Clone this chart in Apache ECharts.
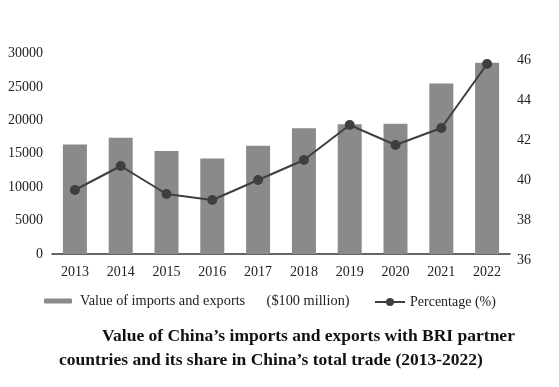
<!DOCTYPE html>
<html>
<head>
<meta charset="utf-8">
<script src="https://cdn.jsdelivr.net/npm/echarts@6/dist/echarts.min.js"></script>
<style>
html,body{margin:0;padding:0;background:#fff;}
#chart{width:559px;height:387px;}
</style>
</head>
<body>
<div id="chart"></div>
<script>
var years = ['2013','2014','2015','2016','2017','2018','2019','2020','2021','2022'];
var tradeValue = [16400, 17400, 15400, 14300, 16200, 18800, 19400, 19500, 25500, 28600];
var sharePct = [39.5, 40.7, 39.3, 39.0, 40.0, 41.0, 42.75, 41.75, 42.6, 45.8];
var leftTicks = [0, 5000, 10000, 15000, 20000, 25000, 30000];
var rightTicks = [36, 38, 40, 42, 44, 46];
var barName = 'Value of imports and exports      ($100 million)';
var lineName = 'Percentage (%)';
var titleLine1 = 'Value of China\u2019s imports and exports with BRI partner';
var titleLine2 = 'countries and its share in China\u2019s total trade (2013-2022)';

var serif = '"Liberation Serif", "Times New Roman", serif';
var chart = echarts.init(document.getElementById('chart'), null, {renderer: 'canvas'});
chart.setOption({
  backgroundColor: '#fff',
  animation: false,
  textStyle: {fontFamily: serif},
  title: [
    {text: titleLine1, left: 97, top: 322, padding: 5, textStyle: {fontFamily: serif, fontSize: 17.5, fontWeight: 'bold', color: '#111'}},
    {text: titleLine2, left: 54, top: 346, padding: 5, textStyle: {fontFamily: serif, fontSize: 17.5, fontWeight: 'bold', color: '#111'}}
  ],
  legend: [
    {data: [barName], left: 39, top: 289, itemWidth: 28, itemHeight: 5, itemGap: 22,
     textStyle: {fontFamily: serif, fontSize: 14.3, color: '#222', padding: [0, 0, 0, 3]}},
    {data: [lineName], left: 369, top: 290, itemWidth: 30, itemHeight: 10,
     textStyle: {fontFamily: serif, fontSize: 14, color: '#222'}}
  ],
  grid: [
    {left: 52, width: 458, top: 53.5, height: 200.5},
    {left: 52, width: 458, top: 60, height: 200}
  ],
  xAxis: [
    {type: 'category', data: years, gridIndex: 0,
     axisLine: {lineStyle: {color: '#333', width: 1.5}}, axisTick: {show: false},
     axisLabel: {fontFamily: serif, fontSize: 14, color: '#222', margin: 11}},
    {type: 'category', data: years, gridIndex: 1, show: false}
  ],
  yAxis: [
    {type: 'value', gridIndex: 0, min: leftTicks[0], max: leftTicks[leftTicks.length-1], interval: 5000,
     axisLine: {show: false}, axisTick: {show: false}, splitLine: {show: false},
     axisLabel: {fontFamily: serif, fontSize: 14, color: '#222', margin: 9,
                 formatter: function (v) { return String(v); }}},
    {type: 'value', gridIndex: 1, position: 'right', min: rightTicks[0], max: rightTicks[rightTicks.length-1], interval: 2,
     axisLine: {show: false}, axisTick: {show: false}, splitLine: {show: false},
     axisLabel: {fontFamily: serif, fontSize: 14, color: '#222', margin: 7}}
  ],
  series: [
    {name: barName, type: 'bar', data: tradeValue, xAxisIndex: 0, yAxisIndex: 0,
     barWidth: 24, itemStyle: {color: '#8a8a8a'}},
    {name: lineName, type: 'line', data: sharePct, xAxisIndex: 1, yAxisIndex: 1,
     symbol: 'circle', symbolSize: 10,
     lineStyle: {color: '#3f3f3f', width: 2}, itemStyle: {color: '#3f3f3f'}}
  ]
});
</script>
</body>
</html>
